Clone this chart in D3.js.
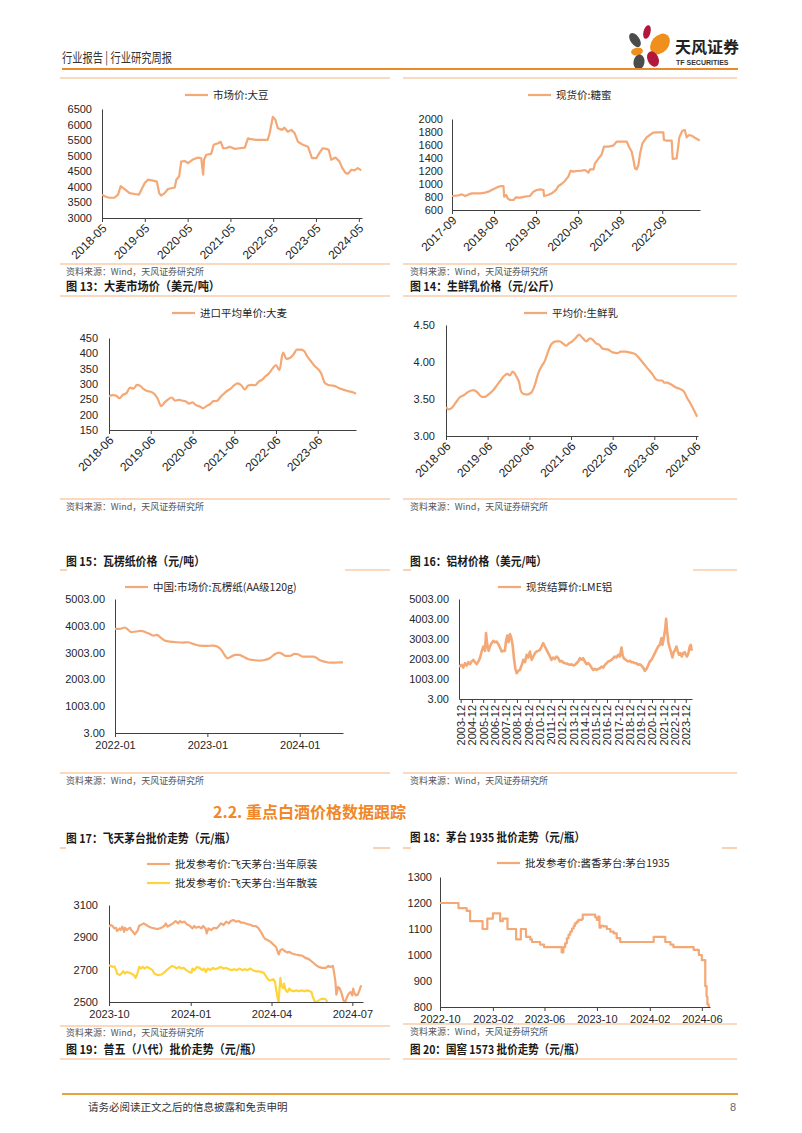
<!DOCTYPE html>
<html><head><meta charset="utf-8">
<script src="https://cdn.jsdelivr.net/npm/d3@7"></script>
<style>body{margin:0;background:#fff}</style>
</head><body>
<script>
// ---------------- DATA ----------------
// Fig: 市场价:大豆
const soyDates = ["2018-05-01","2018-05-23","2018-07-01","2018-08-15","2018-09-15","2018-10-07","2018-11-10","2018-12-22","2019-02-05","2019-03-12","2019-04-01","2019-05-01","2019-05-28","2019-07-10","2019-08-12","2019-09-01","2019-09-18","2019-10-18","2019-11-15","2020-01-12","2020-01-25","2020-02-18","2020-03-07","2020-04-06","2020-05-04","2020-06-10","2020-07-28","2020-08-25","2020-09-10","2020-09-18","2020-10-07","2020-11-18","2020-12-09","2021-01-15","2021-02-06","2021-02-28","2021-03-25","2021-04-24","2021-06-06","2021-07-18","2021-09-01","2021-09-28","2021-10-25","2021-12-06","2022-02-03","2022-03-15","2022-04-01","2022-04-28","2022-05-20","2022-06-10","2022-07-15","2022-08-05","2022-09-03","2022-10-03","2022-11-01","2022-11-28","2023-01-10","2023-02-22","2023-03-28","2023-05-03","2023-06-01","2023-06-28","2023-07-28","2023-08-18","2023-09-08","2023-10-15","2023-11-18","2023-12-12","2024-01-10","2024-01-28","2024-02-28","2024-03-25","2024-04-22","2024-05-22"];
const soyValues = [3750,3700,3650,3650,3750,4020,3930,3800,3770,3750,3900,4120,4230,4200,4170,3800,3720,3800,3930,3980,4230,4330,4810,4830,4760,4870,4940,4920,4390,4870,5030,5060,5350,5400,5450,5240,5240,5290,5220,5240,5260,5560,5530,5510,5510,5510,5720,6250,6150,5880,5830,5900,5770,5830,5720,5450,5350,5290,4920,4920,5100,5240,5220,5190,4870,4940,4810,4600,4440,4420,4550,4530,4600,4530];
const soyTicks = ["2018-05-01","2019-05-01","2020-05-01","2021-05-01","2022-05-01","2023-05-01","2024-05-01"];

// Fig: 现货价:糖蜜
const molassesDates = ["2017-09-01","2017-10-28","2017-11-26","2017-12-25","2018-01-23","2018-02-21","2018-05-04","2018-06-15","2018-07-14","2018-08-12","2018-09-11","2018-10-10","2018-11-08","2018-11-22","2018-11-28","2018-12-16","2018-12-28","2019-01-19","2019-02-18","2019-03-10","2019-04-15","2019-05-28","2019-07-10","2019-08-09","2019-09-07","2019-10-07","2019-11-04","2019-11-10","2019-12-16","2020-01-16","2020-02-22","2020-03-13","2020-04-10","2020-05-10","2020-06-07","2020-06-28","2020-07-22","2020-08-19","2020-10-01","2020-11-01","2020-11-28","2020-12-13","2021-01-13","2021-01-25","2021-02-25","2021-03-22","2021-04-13","2021-05-19","2021-07-01","2021-08-01","2021-09-13","2021-10-28","2021-11-16","2021-12-10","2021-12-25","2022-01-07","2022-01-22","2022-02-06","2022-02-21","2022-03-13","2022-04-18","2022-05-16","2022-06-15","2022-07-13","2022-09-10","2022-09-16","2022-10-10","2022-11-22","2022-12-01","2023-01-04","2023-01-28","2023-02-22","2023-03-16","2023-04-01","2023-04-22","2023-05-22","2023-06-19","2023-07-24"];
const molassesValues = [815,826,840,815,840,856,856,867,882,908,933,959,969,969,805,830,780,754,754,795,790,805,815,882,908,918,908,815,830,856,908,969,1000,1051,1113,1205,1190,1200,1205,1215,1174,1226,1226,1318,1395,1446,1574,1574,1590,1651,1651,1651,1574,1497,1369,1241,1226,1292,1472,1626,1718,1754,1790,1795,1795,1677,1667,1667,1385,1395,1718,1820,1831,1718,1754,1738,1703,1667];
const molassesTicks = ["2017-09-01","2018-09-01","2019-09-01","2020-09-01","2021-09-01","2022-09-01"];

// Fig: 进口平均单价:大麦 (monthly, from 2018-06)
const barleyStart = "2018-06-01";
const barleyValues = [259,264,262,254,265,270,288,285,297,294,283,277,275,268,252,228,240,250,256,246,248,246,244,236,240,231,227,221,228,234,244,245,258,268,278,285,296,302,296,282,295,297,296,308,314,325,335,350,362,345,402,382,385,396,412,412,408,390,375,360,350,335,304,297,295,293,287,283,279,276,273,268];
const barleyTicks = ["2018-06-01","2019-06-01","2020-06-01","2021-06-01","2022-06-01","2023-06-01"];

// Fig: 平均价:生鲜乳
const milkDates = ["2018-06-01","2018-06-24","2018-07-22","2018-08-21","2018-09-28","2018-11-03","2018-12-16","2019-01-28","2019-03-03","2019-04-10","2019-05-09","2019-06-07","2019-07-15","2019-08-19","2019-09-17","2019-10-22","2019-11-20","2019-12-13","2020-01-07","2020-01-27","2020-02-16","2020-03-04","2020-03-16","2020-04-07","2020-05-07","2020-06-19","2020-07-19","2020-08-16","2020-09-15","2020-10-13","2020-11-12","2020-12-10","2021-01-19","2021-02-22","2021-03-22","2021-04-19","2021-05-13","2021-06-12","2021-07-10","2021-08-10","2021-09-07","2021-10-13","2021-11-16","2021-12-09","2022-01-07","2022-02-06","2022-03-04","2022-04-18","2022-06-01","2022-07-13","2022-08-12","2022-09-25","2022-10-25","2022-11-22","2022-12-22","2023-01-25","2023-03-04","2023-04-10","2023-05-13","2023-06-13","2023-07-13","2023-08-10","2023-08-25","2023-09-22","2023-10-22","2023-12-04","2024-01-19","2024-02-16","2024-03-16","2024-04-13","2024-05-13","2024-06-10"];
const milkValues = [3.39,3.36,3.38,3.44,3.52,3.55,3.60,3.62,3.59,3.53,3.53,3.56,3.61,3.68,3.74,3.81,3.84,3.82,3.87,3.84,3.78,3.72,3.62,3.57,3.56,3.59,3.69,3.84,3.94,4.01,4.14,4.24,4.28,4.28,4.25,4.22,4.25,4.28,4.32,4.37,4.33,4.28,4.32,4.30,4.25,4.23,4.18,4.17,4.13,4.12,4.14,4.14,4.13,4.12,4.10,4.04,3.97,3.90,3.84,3.77,3.75,3.75,3.72,3.72,3.70,3.66,3.63,3.60,3.51,3.44,3.35,3.26];
const milkTicks = ["2018-06-01","2019-06-01","2020-06-01","2021-06-01","2022-06-01","2023-06-01","2024-06-01"];

// Fig 15: 中国:市场价:瓦楞纸(AA级120g)
const paperDates = ["2022-01-01","2022-01-20","2022-02-09","2022-02-22","2022-03-06","2022-03-25","2022-04-14","2022-05-02","2022-05-17","2022-06-01","2022-06-16","2022-07-03","2022-07-20","2022-08-05","2022-09-01","2022-09-25","2022-10-16","2022-11-06","2022-12-01","2022-12-28","2023-01-24","2023-02-09","2023-02-25","2023-03-10","2023-03-22","2023-04-05","2023-04-22","2023-05-07","2023-05-22","2023-06-10","2023-06-30","2023-07-26","2023-08-15","2023-09-04","2023-09-24","2023-10-10","2023-10-24","2023-11-07","2023-11-22","2023-12-12","2023-12-25","2024-01-12","2024-01-28","2024-02-22","2024-03-06","2024-03-19","2024-04-09","2024-04-28","2024-05-18","2024-06-06","2024-06-20"];
const paperValues = [3890,3890,3940,3853,3765,3790,3815,3765,3703,3640,3665,3540,3440,3415,3390,3378,3390,3328,3265,3253,3265,3228,3103,2915,2790,2853,2915,2915,2853,2765,2728,2703,2728,2790,2940,3003,2953,2878,2878,2953,2940,2853,2853,2853,2815,2728,2665,2628,2628,2640,2640];
const paperTicks = ["2022-01-01","2023-01-01","2024-01-01"];

// Fig 16: 现货结算价:LME铝 (time as decimal year)
const alumYears = [2003.77,2004.01,2004.15,2004.30,2004.45,2004.60,2004.75,2004.89,2005.04,2005.19,2005.34,2005.48,2005.63,2005.78,2005.93,2006.08,2006.17,2006.28,2006.40,2006.52,2006.67,2006.82,2006.96,2007.11,2007.26,2007.41,2007.56,2007.70,2007.85,2007.94,2008.06,2008.18,2008.30,2008.41,2008.53,2008.65,2008.77,2008.89,2009.03,2009.18,2009.33,2009.48,2009.63,2009.78,2009.92,2010.07,2010.22,2010.37,2010.52,2010.66,2010.81,2010.96,2011.11,2011.25,2011.40,2011.55,2011.70,2011.85,2011.99,2012.14,2012.29,2012.44,2012.59,2012.73,2012.88,2013.03,2013.18,2013.33,2013.47,2013.62,2013.77,2013.92,2014.06,2014.21,2014.36,2014.51,2014.66,2014.80,2014.95,2015.10,2015.25,2015.40,2015.54,2015.69,2015.84,2015.99,2016.14,2016.28,2016.43,2016.58,2016.73,2016.88,2017.02,2017.17,2017.32,2017.47,2017.62,2017.76,2017.91,2018.06,2018.21,2018.30,2018.41,2018.59,2018.80,2018.95,2019.10,2019.24,2019.39,2019.54,2019.69,2019.83,2019.98,2020.13,2020.28,2020.43,2020.57,2020.72,2020.87,2021.02,2021.17,2021.31,2021.46,2021.61,2021.76,2021.85,2021.96,2022.08,2022.17,2022.26,2022.38,2022.50,2022.64,2022.73,2022.85,2022.97,2023.09,2023.21,2023.32,2023.44,2023.56,2023.68,2023.83,2023.92,2024.03,2024.15,2024.27,2024.36,2024.45];
const alumValues = [1625,1710,1575,1793,1676,1843,1743,1876,1960,1843,1743,1876,2043,2378,2629,2411,3297,2712,2411,2629,2796,2913,2846,2880,2746,2578,2378,2411,2411,2880,3180,2846,3247,3080,2712,2043,1542,1291,1408,1458,1676,1960,1843,2211,2077,2378,1960,2127,2294,2378,2411,2462,2629,2796,2629,2462,2294,2127,1960,2077,2010,2127,2043,1876,1910,1826,1793,1776,1743,1710,1743,1676,1710,1793,1876,2043,1960,2043,1876,1743,1793,1710,1575,1458,1508,1458,1508,1542,1625,1575,1710,1793,1876,1910,1960,2043,2127,2077,2211,2127,2578,2211,2043,1960,1876,1910,1843,1843,1793,1793,1710,1743,1676,1575,1408,1508,1676,1876,1960,2127,2294,2462,2629,2712,3046,2712,3046,3465,4017,3381,2796,2545,2294,2077,2344,2462,2629,2378,2211,2294,2127,2294,2344,2211,2127,2294,2629,2712,2411];
const alumTickYears = [2003,2004,2005,2006,2007,2008,2009,2010,2011,2012,2013,2014,2015,2016,2017,2018,2019,2020,2021,2022,2023];

// Fig 17: 飞天茅台 (days after 2023-10-01)
const moutaiBase = "2023-10-01";
const yuanDays = [0,2,4,6,8,9,12,13,15,17,18,20,22,24,25,27,29,32,34,37,39,42,45,48,51,55,59,62,64,66,69,72,75,78,80,82,85,88,91,94,96,98,101,104,106,109,110,112,115,118,121,124,126,129,132,135,137,140,143,146,149,151,154,157,160,162,165,168,171,174,176,179,182,185,188,190,191,193,195,198,201,203,206,210,214,218,221,225,228,231,233,236,240,244,247,249,252,253,255,256,258,260,262,264,266,268,270,272,274,275,276,278,280,282,284];
const yuanValues = [2966,2976,2970,2955,2959,2939,2955,2945,2966,2934,2959,2945,2955,2959,2945,2934,2918,2939,2972,2980,2986,2976,2966,2959,2955,2951,2959,2970,2986,2966,2976,2986,3001,2986,3001,2992,2997,2980,2972,2955,2970,2959,2966,2955,2970,2951,2924,2955,2945,2959,2955,2972,2986,2976,2997,2986,3001,3007,2997,3001,2990,2992,2986,2980,2976,2970,2970,2959,2934,2903,2889,2882,2872,2856,2841,2810,2794,2821,2827,2814,2806,2810,2800,2794,2790,2786,2773,2765,2752,2738,2728,2717,2711,2711,2723,2717,2723,2697,2624,2545,2593,2583,2552,2510,2500,2531,2552,2562,2541,2583,2558,2541,2545,2572,2603];
const sanDays = [0,2,4,6,8,9,12,14,16,18,20,23,25,28,30,32,34,36,38,40,43,46,49,51,55,59,63,65,68,71,74,76,79,81,84,87,90,93,94,96,99,102,105,107,109,111,114,117,120,123,126,129,132,135,138,141,144,147,150,153,156,159,162,165,168,171,174,176,178,180,182,185,187,188,190,191,192,193,194,196,197,199,201,203,205,208,211,214,217,220,223,226,228,229,231,232,235,238,241,244,246];
const sanValues = [2728,2723,2717,2721,2697,2676,2666,2676,2690,2676,2686,2680,2676,2666,2649,2676,2717,2707,2717,2707,2717,2707,2697,2676,2666,2670,2686,2697,2711,2723,2717,2707,2717,2707,2711,2697,2686,2682,2707,2697,2717,2711,2697,2707,2686,2707,2697,2711,2703,2711,2717,2707,2711,2703,2697,2703,2697,2707,2697,2703,2697,2707,2697,2690,2690,2686,2682,2666,2649,2634,2634,2641,2624,2583,2521,2500,2583,2649,2603,2586,2614,2572,2562,2583,2572,2566,2572,2566,2572,2566,2572,2566,2562,2541,2510,2500,2504,2517,2521,2517,2500];
const moutaiTicks = ["2023-10-01","2024-01-01","2024-04-01","2024-07-01"];

// Fig 18: 茅台1935 (days after 2022-10-01)
const m1935Base = "2022-10-01";
const m1935Days = [0,43,62,70,99,110,123,140,146,157,177,188,200,210,214,233,242,283,287,291,295,299,303,307,311,314,318,322,330,332,361,365,369,371,374,380,388,396,404,411,419,497,524,536,543,590,602,609,617,620,622,625,628];
const m1935Values = [1200,1180,1170,1130,1100,1140,1160,1130,1140,1100,1060,1100,1070,1060,1050,1040,1030,1010,1030,1045,1064,1078,1090,1102,1112,1122,1128,1135,1138,1155,1145,1135,1148,1105,1112,1110,1100,1090,1083,1065,1050,1070,1050,1040,1030,1020,1000,980,880,840,810,800,800];
const m1935Ticks = ["2022-10-01","2023-02-01","2023-06-01","2023-10-01","2024-02-01","2024-06-01"];

// ---------------- DRAWING ----------------
const NUM = "'Liberation Sans', Arial, 'Noto Sans CJK SC', sans-serif";
const CJK = "'Noto Sans CJK SC', 'Liberation Sans', sans-serif";
const ORANGE = "#F3A876", YELLOW = "#FFD43A", FRAME = "#F5B47F", AXIS = "#404040", TXT = "#262626";
const parseD = d3.timeParse("%Y-%m-%d");
const fmtYM = d3.timeFormat("%Y-%m");
const dayOff = (base, n) => d3.timeDay.offset(parseD(base), n);
const decYear = v => { const y = Math.floor(v), s = new Date(y,0,1), e = new Date(y+1,0,1); return new Date(+s + (v-y)*(e-s)); };

const svg = d3.select("body").append("svg").attr("width", 802).attr("height", 1133);

function line(x1, x2, y, color, w) {
  svg.append("line").attr("x1", x1).attr("x2", x2).attr("y1", y).attr("y2", y)
    .attr("stroke", color).attr("stroke-width", w);
}
function text(x, y, s, size, opts = {}) {
  const t = svg.append("text").attr("x", x).attr("y", y).text(s)
    .attr("font-size", size).attr("font-family", opts.font || CJK)
    .attr("font-weight", opts.bold ? "bold" : "normal")
    .attr("fill", opts.fill || TXT).attr("text-anchor", opts.anchor || "start");
  if (opts.len) t.attr("textLength", opts.len).attr("lengthAdjust", "spacingAndGlyphs");
  return t;
}

// header
text(62, 62, "行业报告 | 行业研究周报", 13, {fill: "#333", len: 110});
const logo = svg.append("g");
[[635,40,4.5,8,-35,"#4b4b4b"],[647,32,3.5,7,15,"#B3173C"],[660,44,8.5,11.5,40,"#F0901C"],
 [637,51.5,6,3.8,-10,"#F0901C"],[639,62,5.5,7.5,10,"#4b4b4b"],[653,59,5.5,8,-25,"#B3173C"]]
 .forEach(([cx,cy,rx,ry,r,c]) => logo.append("ellipse").attr("cx",cx).attr("cy",cy).attr("rx",rx).attr("ry",ry)
   .attr("transform",`rotate(${r},${cx},${cy})`).attr("fill",c));
text(675, 53, "天风证券", 16, {bold: true, fill: "#222"});
text(676, 65, "TF SECURITIES", 7, {bold: true, fill: "#333", font: NUM});
line(62, 738, 69, "#E98A2B", 2);

// frame lines
[78,264,296,499,773,1059].forEach(y => { line(60, 390, y, FRAME, 1.2); line(403, 737, y, FRAME, 1.2); });
line(60, 67, 570, FRAME, 1.2); line(345, 390, 570, FRAME, 1.2);
line(403, 411, 570, FRAME, 1.2); line(693, 737, 570, FRAME, 1.2);
line(60, 66, 848, FRAME, 1.2); line(373, 390, 848, FRAME, 1.2);
line(403, 411, 848, FRAME, 1.2); line(722, 737, 848, FRAME, 1.2);
line(60, 390, 1026, FRAME, 1.2); line(403, 737, 1024, FRAME, 1.2);

// titles & sources
const titles = [[66,291,"图 13：大麦市场价（美元/吨）",154],[410,291,"图 14：生鲜乳价格（元/公斤）",150],
  [66,566,"图 15：瓦楞纸价格（元/吨）",139],[410,566,"图 16：铝材价格（美元/吨）",137],
  [66,843,"图 17：飞天茅台批价走势（元/瓶）",170],[410,842,"图 18：茅台 1935 批价走势（元/瓶）",175],
  [66,1054,"图 19：普五（八代）批价走势（元/瓶）",196],[410,1054,"图 20：国窖 1573 批价走势（元/瓶）",175]];
titles.forEach(([x,y,s,w]) => text(x, y, s, 12, {bold: true, fill: "#1a1a1a", len: w}));
[[66,275],[410,275],[66,510],[410,510],[66,784],[410,784],[66,1036],[410,1035]]
  .forEach(([x,y]) => text(x, y, "资料来源：Wind，天风证券研究所", 9, {fill: "#555", len: 138}));

text(213, 818, "2.2. 重点白酒价格数据跟踪", 16, {bold: true, fill: "#F0872A"});

// footer
line(62, 738, 1094, "#E9A23B", 2);
text(88, 1111, "请务必阅读正文之后的信息披露和免责申明", 10.5, {fill: "#333"});
text(736, 1111, "8", 11, {fill: "#666", anchor: "end", font: NUM});

// generic chart
function chart(c) {
  const g = svg.append("g");
  const x = d3.scaleTime().domain(c.xDomain).range([c.box.l, c.box.r]);
  const y = d3.scaleLinear().domain(c.yDomain).range([c.box.b, c.box.t]);
  const clipId = "clip" + c.id;
  svg.append("clipPath").attr("id", clipId).append("rect")
    .attr("x", c.box.l).attr("y", c.box.t - 2).attr("width", c.box.r - c.box.l + 2).attr("height", c.box.b - c.box.t + 2);

  const yg = g.append("g").attr("transform", `translate(${c.box.l},0)`)
    .call(d3.axisLeft(y).tickValues(c.yTicks).tickFormat(c.yFmt).tickSize(0).tickPadding(c.yPad || 10));
  yg.select(".domain").attr("stroke", AXIS);
  yg.selectAll("text").attr("font-size", 11).attr("font-family", NUM).attr("fill", TXT);

  const xg = g.append("g").attr("transform", `translate(0,${c.box.b})`)
    .call(d3.axisBottom(x).tickValues(c.xTicks).tickFormat(fmtYM).tickSizeInner(4).tickSizeOuter(0).tickPadding(4));
  xg.select(".domain").attr("stroke", AXIS);
  xg.selectAll(".tick line").attr("stroke", AXIS);
  const xt = xg.selectAll("text").attr("font-size", 11).attr("font-family", NUM).attr("fill", TXT);
  if (c.rot === 45) xt.attr("font-size", 12).attr("text-anchor", "end").attr("x", 0).attr("y", 0).attr("dy", "0.35em")
      .attr("transform", "translate(2,8) rotate(-45)");
  if (c.rot === 90) xt.attr("text-anchor", "end").attr("x", 0).attr("y", 0).attr("dy", "0.35em")
      .attr("transform", "translate(0,6) rotate(-90)");

  c.series.forEach(s => {
    const data = s.t.map((t, i) => [t, s.v[i]]);
    g.append("path").datum(data).attr("clip-path", `url(#${clipId})`)
      .attr("fill", "none").attr("stroke", s.color).attr("stroke-width", s.w || 2.2)
      .attr("stroke-linejoin", "round")
      .attr("d", d3.line().x(d => x(d[0])).y(d => y(d[1])).curve(s.curve || d3.curveLinear));
  });
  c.legend.forEach(l => {
    g.append("line").attr("x1", l.x).attr("x2", l.x + 23).attr("y1", l.y).attr("y2", l.y)
      .attr("stroke", l.color).attr("stroke-width", 2.2);
    g.append("text").attr("x", l.x + 28).attr("y", l.y).attr("dy", "0.35em").text(l.label)
      .attr("font-size", 10.5).attr("font-family", CJK).attr("fill", TXT);
  });
}

const P = s => parseD(s);

chart({id:1, box:{l:102,r:362,t:109,b:218}, xDomain:[P("2018-05-01"),P("2024-05-28")], xTicks:soyTicks.map(P), rot:45,
  yDomain:[3000,6500], yTicks:d3.range(3000,6501,500), yFmt:d3.format("d"),
  series:[{t:soyDates.map(P), v:soyValues, color:ORANGE}],
  legend:[{x:185, y:95, label:"市场价:大豆", color:ORANGE}]});

chart({id:2, box:{l:452,r:700,t:119,b:210}, xDomain:[P("2017-09-01"),P("2023-07-26")], xTicks:molassesTicks.map(P), rot:45,
  yDomain:[600,2000], yTicks:d3.range(600,2001,200), yFmt:d3.format("d"), yPad:9,
  series:[{t:molassesDates.map(P), v:molassesValues, color:ORANGE}],
  legend:[{x:528, y:95, label:"现货价:糖蜜", color:ORANGE}]});

chart({id:3, box:{l:109,r:356,t:338,b:430}, xDomain:[P(barleyStart),P("2024-05-01")], xTicks:barleyTicks.map(P), rot:45,
  yDomain:[150,450], yTicks:d3.range(150,451,50), yFmt:d3.format("d"), yPad:11,
  series:[{t:barleyValues.map((v,i) => d3.timeMonth.offset(P(barleyStart), i)), v:barleyValues, color:ORANGE, curve:d3.curveMonotoneX}],
  legend:[{x:172, y:313, label:"进口平均单价:大麦", color:ORANGE}]});

chart({id:4, box:{l:446,r:698,t:325,b:436}, xDomain:[P("2018-06-01"),P("2024-06-18")], xTicks:milkTicks.map(P), rot:45,
  yDomain:[3,4.5], yTicks:[3,3.5,4,4.5], yFmt:d3.format(".2f"), yPad:11,
  series:[{t:milkDates.map(P), v:milkValues, color:ORANGE, curve:d3.curveMonotoneX}],
  legend:[{x:524, y:313, label:"平均价:生鲜乳", color:ORANGE}]});

chart({id:5, box:{l:115,r:343,t:599,b:733}, xDomain:[P("2022-01-01"),P("2024-06-20")], xTicks:paperTicks.map(P), rot:0,
  yDomain:[3,5003], yTicks:d3.range(3,5004,1000), yFmt:d3.format(".2f"), yPad:10,
  series:[{t:paperDates.map(P), v:paperValues, color:ORANGE, curve:d3.curveMonotoneX}],
  legend:[{x:125, y:587, label:"中国:市场价:瓦楞纸(AA级120g)", color:ORANGE}]});

chart({id:6, box:{l:459,r:692,t:599,b:699}, xDomain:[decYear(2003.77),decYear(2024.47)], xTicks:alumTickYears.map(y => new Date(y,11,1)), rot:90,
  yDomain:[3,5003], yTicks:d3.range(3,5004,1000), yFmt:d3.format(".2f"), yPad:10,
  series:[{t:alumYears.map(decYear), v:alumValues, color:ORANGE, w:2.6}],
  legend:[{x:498, y:587, label:"现货结算价:LME铝", color:ORANGE}]});

chart({id:7, box:{l:109,r:363,t:905,b:1002}, xDomain:[P(moutaiBase), dayOff(moutaiBase,286)], xTicks:moutaiTicks.map(P), rot:0,
  yDomain:[2500,3100], yTicks:[2500,2700,2900,3100], yFmt:d3.format("d"), yPad:11,
  series:[{t:yuanDays.map(d => dayOff(moutaiBase,d)), v:yuanValues, color:ORANGE},
          {t:sanDays.map(d => dayOff(moutaiBase,d)), v:sanValues, color:YELLOW}],
  legend:[{x:147, y:864, label:"批发参考价:飞天茅台:当年原装", color:ORANGE},
          {x:147, y:883, label:"批发参考价:飞天茅台:当年散装", color:YELLOW}]});

chart({id:8, box:{l:440,r:710,t:877,b:1007}, xDomain:[P(m1935Base), dayOff(m1935Base,628)], xTicks:m1935Ticks.map(P), rot:0,
  yDomain:[800,1300], yTicks:d3.range(800,1301,100), yFmt:d3.format("d"), yPad:8,
  series:[{t:m1935Days.map(d => dayOff(m1935Base,d)), v:m1935Values, color:ORANGE, curve:d3.curveStepAfter}],
  legend:[{x:497, y:863, label:"批发参考价:酱香茅台:茅台1935", color:ORANGE}]});
</script>
</body></html>
